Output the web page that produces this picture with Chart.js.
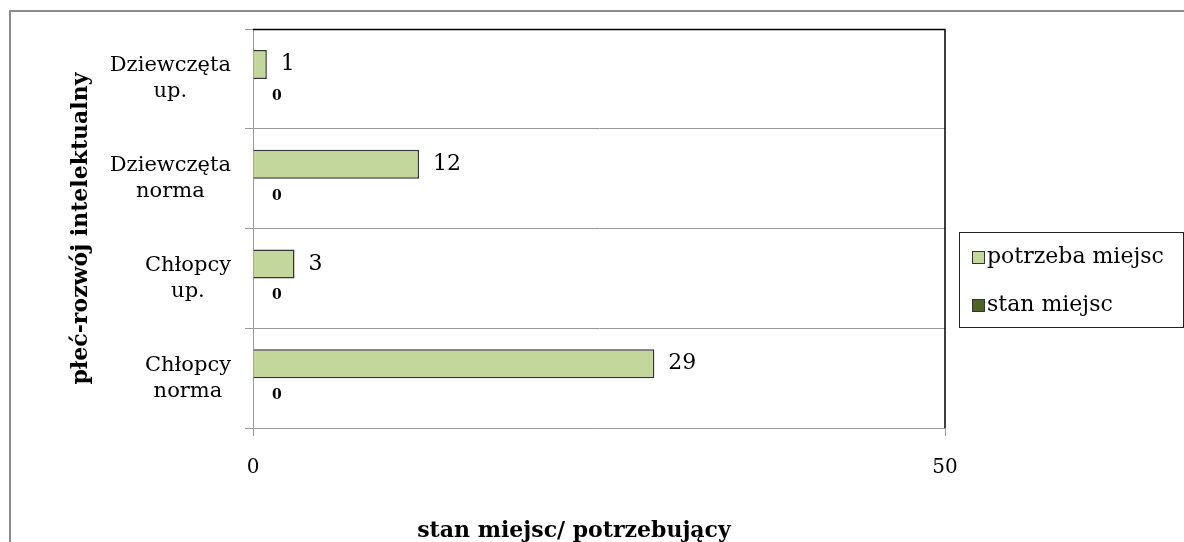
<!DOCTYPE html>
<html>
<head>
<meta charset="utf-8">
<script src="https://cdn.jsdelivr.net/npm/chart.js@4"></script>
<style>
  html, body { margin: 0; padding: 0; background: #fff; }
  #wrap { width: 1184px; height: 542px; }
</style>
</head>
<body>
<div id="wrap"><canvas id="placesChart" width="1184" height="542"></canvas></div>
<script>
const categories = [['Dziewczęta', 'up.'], ['Dziewczęta', 'norma'], ['Chłopcy', 'up.'], ['Chłopcy', 'norma']];
const seriesNames = ['potrzeba miejsc', 'stan miejsc'];
const potrzebaMiejsc = [1, 12, 3, 29];
const stanMiejsc = [0, 0, 0, 0];
const xTicks = [0, 50];

const FONT = 'DejaVu Serif';
const colors = ['#c3d69b', '#4f6228'];

// frame, plot border, legend, titles, labels
const decorPlugin = {
    id: 'decor',
    beforeDraw: (chart) => {
        const c = chart.ctx;
        c.save();
        c.strokeStyle = '#8c8c8c';
        c.lineWidth = 2;
        c.strokeRect(10, 11, 1300, 700);
        c.restore();
    },
    afterDraw: (chart) => {
        const c = chart.ctx;
        const a = chart.chartArea;
        const yScale = chart.scales.y;
        c.save();
        // black top + right border of plot area
        c.strokeStyle = '#000';
        c.lineWidth = 1.5;
        c.beginPath();
        c.moveTo(a.left, a.top + 0.5);
        c.lineTo(a.right, a.top + 0.5);
        c.lineTo(a.right, a.bottom);
        c.stroke();

        // category labels: block right aligned, lines centered
        c.fillStyle = '#000';
        c.font = '21px "' + FONT + '"';
        c.textBaseline = 'middle';
        c.textAlign = 'center';
        categories.forEach((lines, i) => {
            const yc = yScale.getPixelForTick(i);
            const w = Math.max(...lines.map(l => c.measureText(l).width));
            const xc = 231 - w / 2;
            lines.forEach((l, j) => {
                c.fillText(l, xc, yc + (j - (lines.length - 1) / 2) * 26);
            });
        });

        // value labels
        chart.data.datasets.forEach((ds, di) => {
            const meta = chart.getDatasetMeta(di);
            c.font = di === 0 ? '22px "' + FONT + '"' : 'bold 14px "' + FONT + '"';
            c.textAlign = 'left';
            meta.data.forEach((el, i) => {
                const off = di === 0 ? 14 : 19;
                c.fillText(String(ds.data[i]), el.x + off, el.y + (di === 0 ? 0 : 3));
            });
        });

        // axis titles
        c.font = 'bold 22px "' + FONT + '"';
        c.textAlign = 'center';
        c.fillText('stan miejsc/ potrzebujący', 574, 531);
        c.save();
        c.translate(81, (a.top + a.bottom) / 2);
        c.rotate(-Math.PI / 2);
        c.fillText('płeć-rozwój intelektualny', 0, 0);
        c.restore();

        // legend
        c.strokeStyle = '#222';
        c.lineWidth = 1;
        c.strokeRect(959.5, 232.5, 224, 95);
        c.font = '22px "' + FONT + '"';
        c.textAlign = 'left';
        seriesNames.forEach((name, i) => {
            const yc = 257 + i * 48;
            c.fillStyle = colors[i];
            c.fillRect(972, yc - 6, 13, 13);
            c.strokeStyle = '#333';
            c.strokeRect(972.5, yc - 5.5, 12, 12);
            c.fillStyle = '#000';
            c.fillText(name, 987, yc);
        });
        c.restore();
    }
};

new Chart(document.getElementById('placesChart').getContext('2d'), {
    type: 'bar',
    data: {
        labels: categories,
        datasets: [
            { label: seriesNames[0], data: potrzebaMiejsc, backgroundColor: colors[0], borderColor: '#333', borderWidth: 1.5 },
            { label: seriesNames[1], data: stanMiejsc, backgroundColor: colors[1], borderColor: '#333', borderWidth: 1.5 }
        ]
    },
    options: {
        indexAxis: 'y',
        responsive: false,
        animation: false,
        categoryPercentage: 0.58,
        barPercentage: 1.0,
        layout: { padding: { left: 0, top: 29, right: 239, bottom: 0 } },
        plugins: { legend: { display: false }, tooltip: { enabled: false } },
        scales: {
            x: {
                min: xTicks[0], max: xTicks[xTicks.length - 1],
                afterBuildTicks: (s) => { s.ticks = xTicks.map(v => ({ value: v })); },
                grid: { drawOnChartArea: false, tickLength: 8, color: '#999' },
                border: { color: '#999' },
                ticks: { color: '#000', padding: 20, font: { family: FONT, size: 20 } },
                afterFit: (s) => { s.height = 114; }
            },
            y: {
                grid: { color: '#999', tickLength: 8, offset: true },
                border: { color: '#999' },
                ticks: { display: false },
                afterFit: (s) => { s.width = 253; }
            }
        }
    },
    plugins: [decorPlugin]
});
</script>
</body>
</html>
